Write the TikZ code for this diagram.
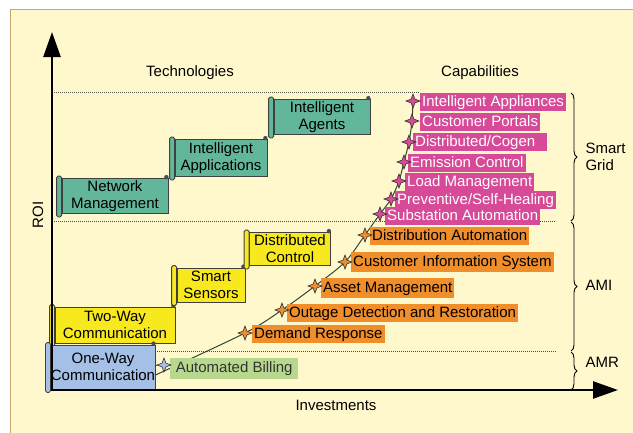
\documentclass[tikz,border=0pt]{standalone}
\usepackage{fontspec}
\setmainfont{Liberation Sans}
\usepackage{tikz}
\usetikzlibrary{arrows.meta,decorations.pathreplacing,shapes}
\tikzset{>={Latex[width=3pt,length=5pt]}}

\definecolor{cream}{RGB}{255,248,204}
\definecolor{frametan}{RGB}{196,168,112}
\definecolor{techteal}{RGB}{98,182,154}
\definecolor{techyellow}{RGB}{248,232,30}
\definecolor{techblue}{RGB}{164,192,230}
\definecolor{capmagenta}{RGB}{214,74,152}
\definecolor{caporange}{RGB}{240,142,44}
\definecolor{capgreen}{RGB}{184,216,142}
\definecolor{curveline}{RGB}{50,70,56}

\begin{document}
\begin{tikzpicture}[x=1pt,y=-1pt,
  every node/.style={font=\fontsize{15}{17}\selectfont},
  tech/.style={draw=black!75, line width=0.8pt, inner sep=0pt, align=center},
  capbox/.style={anchor=west, inner xsep=2pt, inner ysep=0pt, minimum height=18pt,
    text height=11pt, text depth=3pt},
  spark/.style={star, star points=4, star point ratio=2.6, minimum size=14pt,
    inner sep=0pt, draw=black!80, line width=0.6pt},
  levelsep/.style={densely dotted, line width=1pt, black!70},
  bracket/.style={decorate, decoration={brace, amplitude=6pt}, line width=0.9pt}]

  \newcommand\scrollend[2]{%
    \draw[fill=#2, line width=0.8pt, draw=black!75, rounded corners=1.5pt]
      ([xshift=-5pt,yshift=2pt]#1.north west) rectangle ([yshift=-3pt]#1.south west);
    \fill[black!70] ([xshift=-2pt,yshift=1pt]#1.north east) circle (2.2pt);
  }

  % background
  \useasboundingbox (0,0) rectangle (633,432);
  \fill[white] (0,0) rectangle (633,432);
  \draw[fill=cream, draw=frametan, line width=1pt] (10,9) rectangle (640,440);

  % titles
  \node (techs) at (190,73) {Technologies};
  \node (caps) at (480,73) {Capabilities};
  \node[rotate=90] (roi) at (38,215) {ROI};
  \node (invest) at (336,405) {Investments};

  % level separators
  \draw[levelsep] (52,92) -- (420,92);
  \draw[levelsep] (52,221) -- (556,221);
  \draw[levelsep] (153,351) -- (556,351);

  % technologies
  \node[tech, fill=techteal, minimum width=106pt, minimum height=35pt] (netman) at (115,196) {Network\\Management};
  \scrollend{netman}{techteal}
  \node[tech, fill=techteal, minimum width=92pt, minimum height=37pt] (intapp) at (221,158) {Intelligent\\Applications};
  \scrollend{intapp}{techteal}
  \node[tech, fill=techteal, minimum width=96pt, minimum height=35pt] (intag) at (322,117) {Intelligent\\Agents};
  \scrollend{intag}{techteal}
  \node[tech, fill=techyellow, minimum width=120pt, minimum height=36pt] (twoway) at (115,325) {Two-Way\\Communication};
  \scrollend{twoway}{techyellow}
  \node[tech, fill=techyellow, minimum width=68pt, minimum height=34pt] (sensors) at (211,285) {Smart\\Sensors};
  \scrollend{sensors}{techyellow}
  \node[tech, fill=techyellow, minimum width=81pt, minimum height=33pt] (distctl) at (290,249) {Distributed\\Control};
  \scrollend{distctl}{techyellow}
  \node[tech, fill=techblue, minimum width=100pt, minimum height=44pt] (oneway) at (103,367) {One-Way\\Communication};
  \scrollend{oneway}{techblue}

  % points on the capability curve
  \coordinate (c0) at ([yshift=-8pt]oneway.east);
  \coordinate (c1) at (413,101);
  \coordinate (c2) at (412,121);
  \coordinate (c3) at (409,142);
  \coordinate (c4) at (404,162);
  \coordinate (c5) at (399,181);
  \coordinate (c6) at (391,199);
  \coordinate (c7) at (380,214);
  \coordinate (c8) at (365,235);
  \coordinate (c9) at (345,262);
  \coordinate (c10) at (315,286);
  \coordinate (c11) at (282,310);
  \coordinate (c12) at (245,333);
  \draw[curveline, line width=1pt] plot[smooth, tension=0.5] coordinates
    {(c0) (c12) (c11) (c10) (c9) (c8) (c7) (c6) (c5) (c4) (c3) (c2) (c1)};

  % capabilities
  \node[capbox, fill=capgreen, text=black!80, minimum height=21pt, minimum width=128pt] (billing) at (170,368) {Automated Billing};
  \node[spark, fill=techblue] (b0) at (164,365) {};
  \draw[curveline, line width=1pt] (b0 -| oneway.east) -- (b0);

  \node[capbox, fill=caporange] (o5) at (252,334) {Demand Response};
  \node[capbox, fill=caporange] (o4) at (287,313) {Outage Detection and Restoration};
  \node[capbox, fill=caporange, minimum height=20pt] (o3) at (321,288) {Asset Management};
  \node[capbox, fill=caporange, minimum height=20pt] (o2) at (351,262) {Customer Information System};
  \node[capbox, fill=caporange] (o1) at (370,236) {Distribution Automation};

  \node[capbox, fill=capmagenta, text=white] (p7) at (385,216) {Substation Automation};
  \node[capbox, fill=capmagenta, text=white] (p6) at (395,200) {Preventive/Self-Healing};
  \node[capbox, fill=capmagenta, text=white] (p5) at (405,182) {Load Management};
  \node[capbox, fill=capmagenta, text=white] (p4) at (408,163) {Emission Control};
  \node[capbox, fill=capmagenta, text=white, align=left, text width=130pt] (p3) at (413,142) {Distributed/Cogen};
  \node[capbox, fill=capmagenta, text=white] (p2) at (420,122) {Customer Portals};
  \node[capbox, fill=capmagenta, text=white] (p1) at (420,102) {Intelligent Appliances};

  \foreach \i in {1,...,7}
    \node[spark, fill=capmagenta] (s\i) at (c\i) {};
  \foreach \i in {8,...,12}
    \node[spark, fill=caporange] (s\i) at (c\i) {};

  % axes
  \coordinate (origin) at (52,390);
  \draw[line width=2.5pt, -{Triangle[width=17pt,length=25pt]}] (origin) -- (52,32);
  \draw[line width=2.5pt, -{Triangle[width=17pt,length=25pt]}] ([xshift=-1.25pt]origin) -- (618,390);

  % levels
  \draw[bracket] (571,93) -- (571,221);
  \draw[bracket] (571,222) -- (571,351);
  \draw[bracket] (571,352) -- (571,390);
  \node[anchor=west, align=left] (smart) at (582,157) {Smart\\Grid};
  \node[anchor=west] (ami) at (582,285) {AMI};
  \node[anchor=west] (amr) at (582,362) {AMR};

\end{tikzpicture}
\end{document}
